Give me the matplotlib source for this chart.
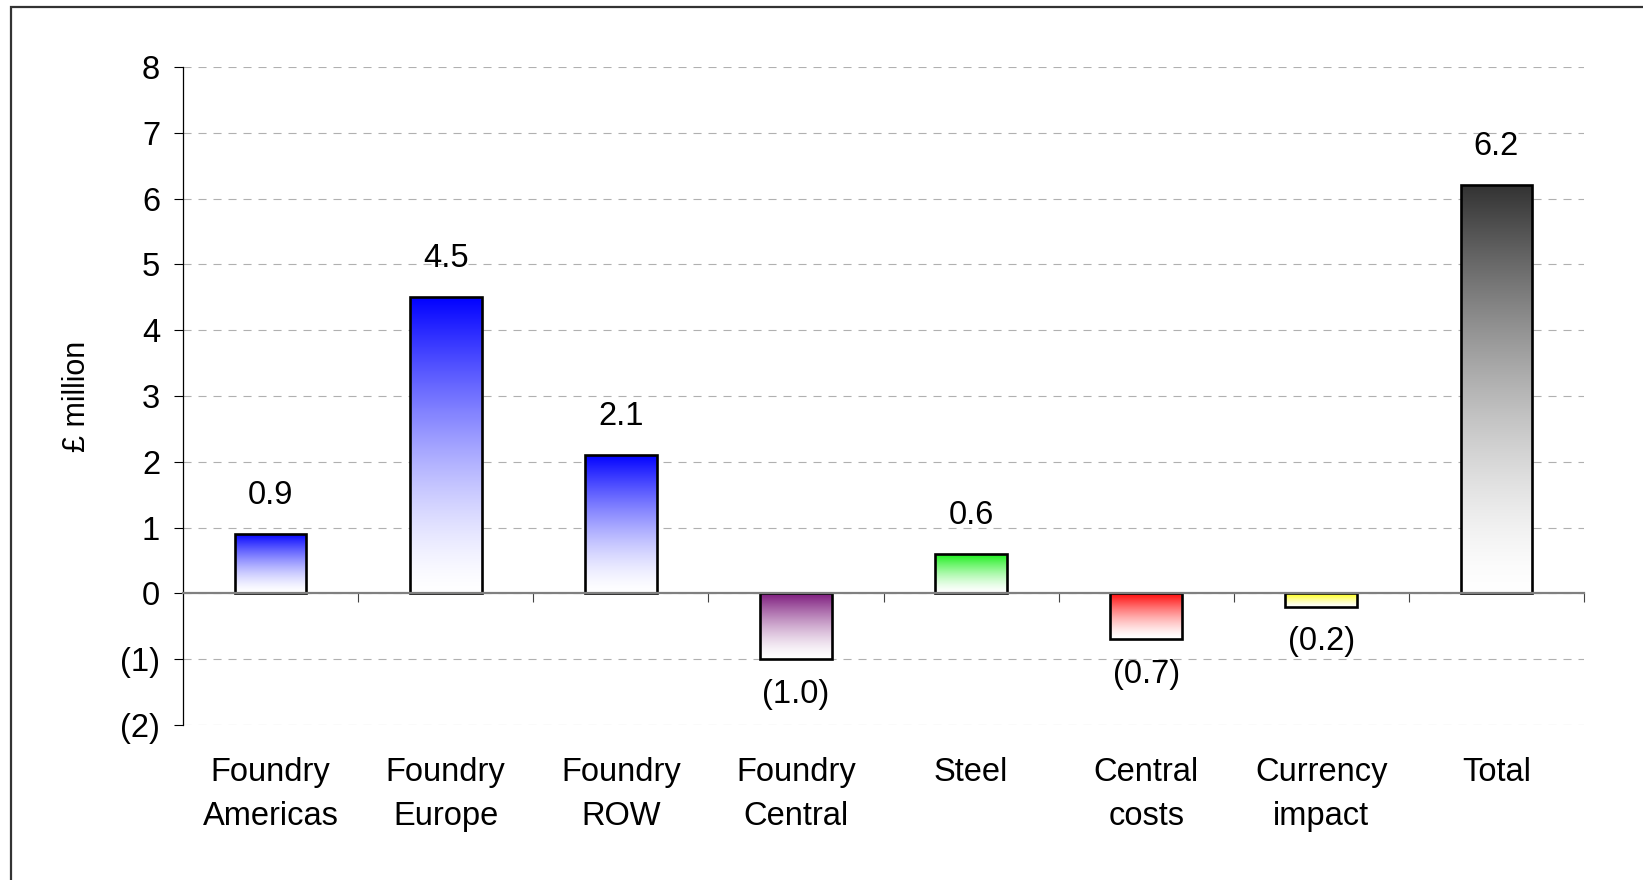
import numpy as np
import matplotlib
matplotlib.use('Agg')
import matplotlib.pyplot as plt
from matplotlib.colors import to_rgb
from matplotlib.patches import Rectangle
from matplotlib.ticker import FuncFormatter

plt.rcParams['font.family'] = ['Liberation Sans', 'DejaVu Sans']
plt.rcParams['lines.scale_dashes'] = False

categories = ['Foundry\nAmericas', 'Foundry\nEurope', 'Foundry\nROW', 'Foundry\nCentral',
              'Steel', 'Central\ncosts', 'Currency\nimpact', 'Total']
values = [0.9, 4.5, 2.1, -1.0, 0.6, -0.7, -0.2, 6.2]
top_colours = ['#0000ff', '#0000ff', '#0000ff', '#7d1a7d',
               '#11ee11', '#ff0000', '#ffff00', '#333333']
y_ticks = list(range(-2, 9))


def fmt(v):
    return '(%.1f)' % abs(v) if v < 0 else '%.1f' % v


def fmt_tick(v, pos):
    return '(%d)' % abs(v) if v < 0 else '%d' % v


fs = 23.5
fig = plt.figure(figsize=(16.43, 8.8), dpi=100)
ax = fig.add_axes([0.1114, 0.1761, 0.8527, 0.7478])

# frame round the whole picture
fig.patches.append(Rectangle((11 / 1643, -0.05), 1.1, 0.05 + (880 - 6.5) / 880,
                             transform=fig.transFigure, fill=False,
                             edgecolor='#333333', lw=1.6, zorder=0))

x = np.arange(1, len(values) + 1)
bars = ax.bar(x, values, width=0.41, facecolor='none', edgecolor='black',
              linewidth=1.9, zorder=4)

# vertical shading: colour at the top of each bar fading to white
s = np.linspace(0, 1, 256)[:, None]
for bar, col in zip(bars, top_colours):
    c = np.array(to_rgb(col))
    k = (1 - s) ** 1.45
    img = 1 - (1 - c)[None, None, :] * k[:, :, None]
    bx, by = bar.get_x(), bar.get_y()
    bw, bh = bar.get_width(), bar.get_height()
    lo, hi = min(by, by + bh), max(by, by + bh)
    im = ax.imshow(img, extent=[bx, bx + bw, lo, hi], origin='upper',
                   aspect='auto', interpolation='bilinear', zorder=3)
    im.set_clip_path(bar)

for xi, v in zip(x, values):
    off = 28 if v >= 0 else -25.5
    ax.annotate(fmt(v), xy=(xi, v), xytext=(0, off), textcoords='offset points',
                ha='center', va='center', fontsize=fs)

for xi, lab in zip(x, categories):
    ax.annotate(lab, xy=(xi, 0), xycoords=('data', 'axes fraction'),
                xytext=(0, -23), textcoords='offset points',
                ha='center', va='top', fontsize=fs, linespacing=1.55)

ax.set_xlim(0.5, len(values) + 0.5)
ax.set_ylim(-2, 8)
ax.set_yticks(y_ticks)
ax.yaxis.set_major_formatter(FuncFormatter(fmt_tick))
ax.grid(axis='y', color='#b0b0b0', linestyle=(0, (5.8, 5.0)), linewidth=0.8, zorder=1)
ax.set_axisbelow(True)

ax.set_xticks(np.arange(1.5, len(values) + 1, 1.0))
ax.set_xticklabels([])
ax.tick_params(axis='x', direction='out', length=6.5, width=0.8, color='#444444')
ax.tick_params(axis='y', direction='out', length=6.5, width=0.8, color='black',
               labelsize=fs, pad=10)

for side in ['top', 'right']:
    ax.spines[side].set_visible(False)
ax.spines['bottom'].set_position(('data', 0))
ax.spines['bottom'].set_color('#808080')
ax.spines['bottom'].set_linewidth(1.6)
ax.spines['bottom'].set_zorder(5)
ax.spines['left'].set_linewidth(0.9)

ax.set_ylabel('£ million', fontsize=22)
ax.yaxis.set_label_coords(-0.076, 0.5)
ax.yaxis.label.set_va('center')

fig.savefig('out.png', dpi=100)
